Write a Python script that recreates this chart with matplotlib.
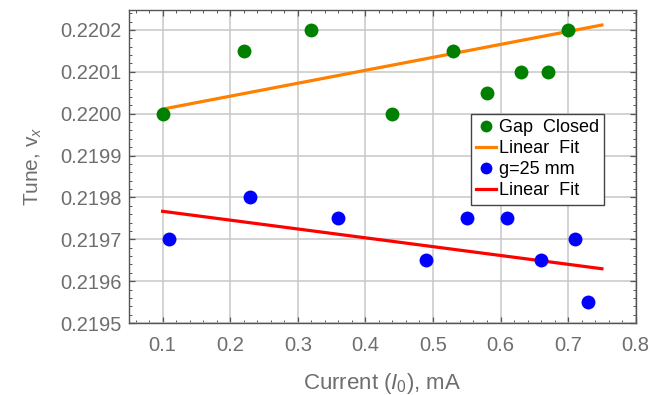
import numpy as np
import matplotlib.pyplot as plt
from matplotlib.ticker import MultipleLocator, FormatStrFormatter

plt.rcParams['font.family'] = ['Liberation Sans', 'DejaVu Sans']
plt.rcParams['mathtext.fontset'] = 'custom'
plt.rcParams['mathtext.rm'] = 'Liberation Sans'
plt.rcParams['mathtext.it'] = 'Liberation Sans:italic'

# Gap closed measurements
current_closed = [0.10, 0.22, 0.32, 0.44, 0.53, 0.58, 0.63, 0.67, 0.70]
tune_closed = [0.22000, 0.22015, 0.22020, 0.22000, 0.22015, 0.22005, 0.22010, 0.22010, 0.22020]

# g = 25 mm measurements
current_25 = [0.11, 0.23, 0.36, 0.49, 0.55, 0.61, 0.66, 0.71, 0.73]
tune_25 = [0.21970, 0.21980, 0.21975, 0.21965, 0.21975, 0.21975, 0.21965, 0.21970, 0.21955]

# linear fits: (slope, intercept) and span of current
fit_closed = (0.000309, 0.2199801)
fit_25 = (-0.000211, 0.2197881)
fit_range = [0.10, 0.75]

grey = '#6e6e6e'

fig, ax = plt.subplots(figsize=(6.54, 3.95), dpi=100)
fig.subplots_adjust(left=0.197, right=0.972, bottom=0.182, top=0.975)

xf = np.array(fit_range)
ax.plot(current_closed, tune_closed, 'o', color='#008000', ms=10, mec='none',
        label='Gap  Closed', zorder=4)
ax.plot(xf, fit_closed[0] * xf + fit_closed[1], color='#ff7f00', lw=2.3,
        label='Linear  Fit', zorder=3)
ax.plot(current_25, tune_25, 'o', color='#0000ff', ms=10, mec='none',
        label='g=25 mm', zorder=4)
ax.plot(xf, fit_25[0] * xf + fit_25[1], color='#ff0000', lw=2.3,
        label='Linear  Fit', zorder=3)

ax.set_xlim(0.05, 0.8)
ax.set_ylim(0.2195, 0.220248)
ax.xaxis.set_major_locator(MultipleLocator(0.1))
ax.xaxis.set_minor_locator(MultipleLocator(0.02))
ax.yaxis.set_major_locator(MultipleLocator(0.0001))
ax.yaxis.set_minor_locator(MultipleLocator(0.00002))
ax.xaxis.set_major_formatter(FormatStrFormatter('%.1f'))
ax.yaxis.set_major_formatter(FormatStrFormatter('%.4f'))

ax.grid(True, which='major', color='#c8c8c8', lw=1.1)
ax.set_axisbelow(True)
ax.tick_params(which='both', direction='in', top=True, right=True,
               color='#555555', labelcolor=grey, labelsize=14.5)
ax.tick_params(which='major', length=4, width=0.9)
ax.tick_params(which='minor', length=2, width=0.7)
ax.tick_params(axis='x', pad=9)
ax.tick_params(axis='y', pad=5)
for s in ax.spines.values():
    s.set_color('#555555')
    s.set_linewidth(1.0)

ax.set_xlabel(r'Current $(I_0)$, mA', color=grey, fontsize=16, labelpad=12)
ax.set_ylabel(r'Tune, $\mathrm{v}_x$', color=grey, fontsize=15, labelpad=12)

leg = ax.legend(loc='upper left', bbox_to_anchor=(0.675, 0.668), fontsize=13,
                handlelength=1.1, handletextpad=0.15, borderpad=0.3,
                labelspacing=0.22, borderaxespad=0, fancybox=False,
                framealpha=1, edgecolor='#444444', markerscale=0.85)
leg.get_frame().set_linewidth(1.0)

fig.savefig('out.png', dpi=100)
